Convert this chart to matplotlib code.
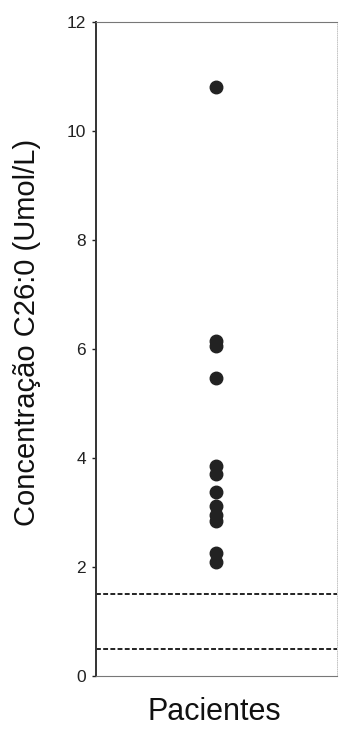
import matplotlib.pyplot as plt
import numpy as np

plt.rcParams['font.family'] = ['Liberation Sans', 'DejaVu Sans']

# values
pacientes = [10.8, 6.15, 6.05, 5.47, 3.85, 3.7, 3.38, 3.12, 2.95, 2.85, 2.25, 2.1]
limites = [1.5, 0.5]
yticks = [0, 2, 4, 6, 8, 10, 12]

fig = plt.figure(figsize=(3.39, 7.31), dpi=100)
ax = fig.add_axes([0.283, 0.0752, 0.711, 0.895])

ax.plot(np.full(len(pacientes), 0.5), pacientes, 'o', color='#222222',
        markersize=9, zorder=3)

for v in limites:
    ax.axhline(v, color='#222222', lw=1.4, ls=(0, (2.5, 1.2)))

ax.set_xlim(0, 1)
ax.set_ylim(0, 12)
ax.set_yticks(yticks)
ax.set_xticks([])
ax.tick_params(axis='y', direction='out', length=3, width=1, labelsize=12.5,
               colors='#222222', pad=4)

ax.spines['left'].set_linewidth(1.4)
ax.spines['left'].set_color('#333333')
ax.spines['bottom'].set_linewidth(0.8)
ax.spines['bottom'].set_color('#777777')
ax.spines['top'].set_linewidth(0.8)
ax.spines['top'].set_color('#777777')
ax.spines['right'].set_linewidth(0.6)
ax.spines['right'].set_color('#bbbbbb')
ax.spines['right'].set_linestyle(':')

ax.set_ylabel('Concentração C26:0 (Umol/L)', fontsize=21, color='#111111')
ax.yaxis.set_label_coords(-0.228, 0.525)
ax.set_xlabel('Pacientes', fontsize=22, color='#111111')
ax.xaxis.set_label_coords(0.49, -0.032)

fig.savefig('out.png', dpi=100)
